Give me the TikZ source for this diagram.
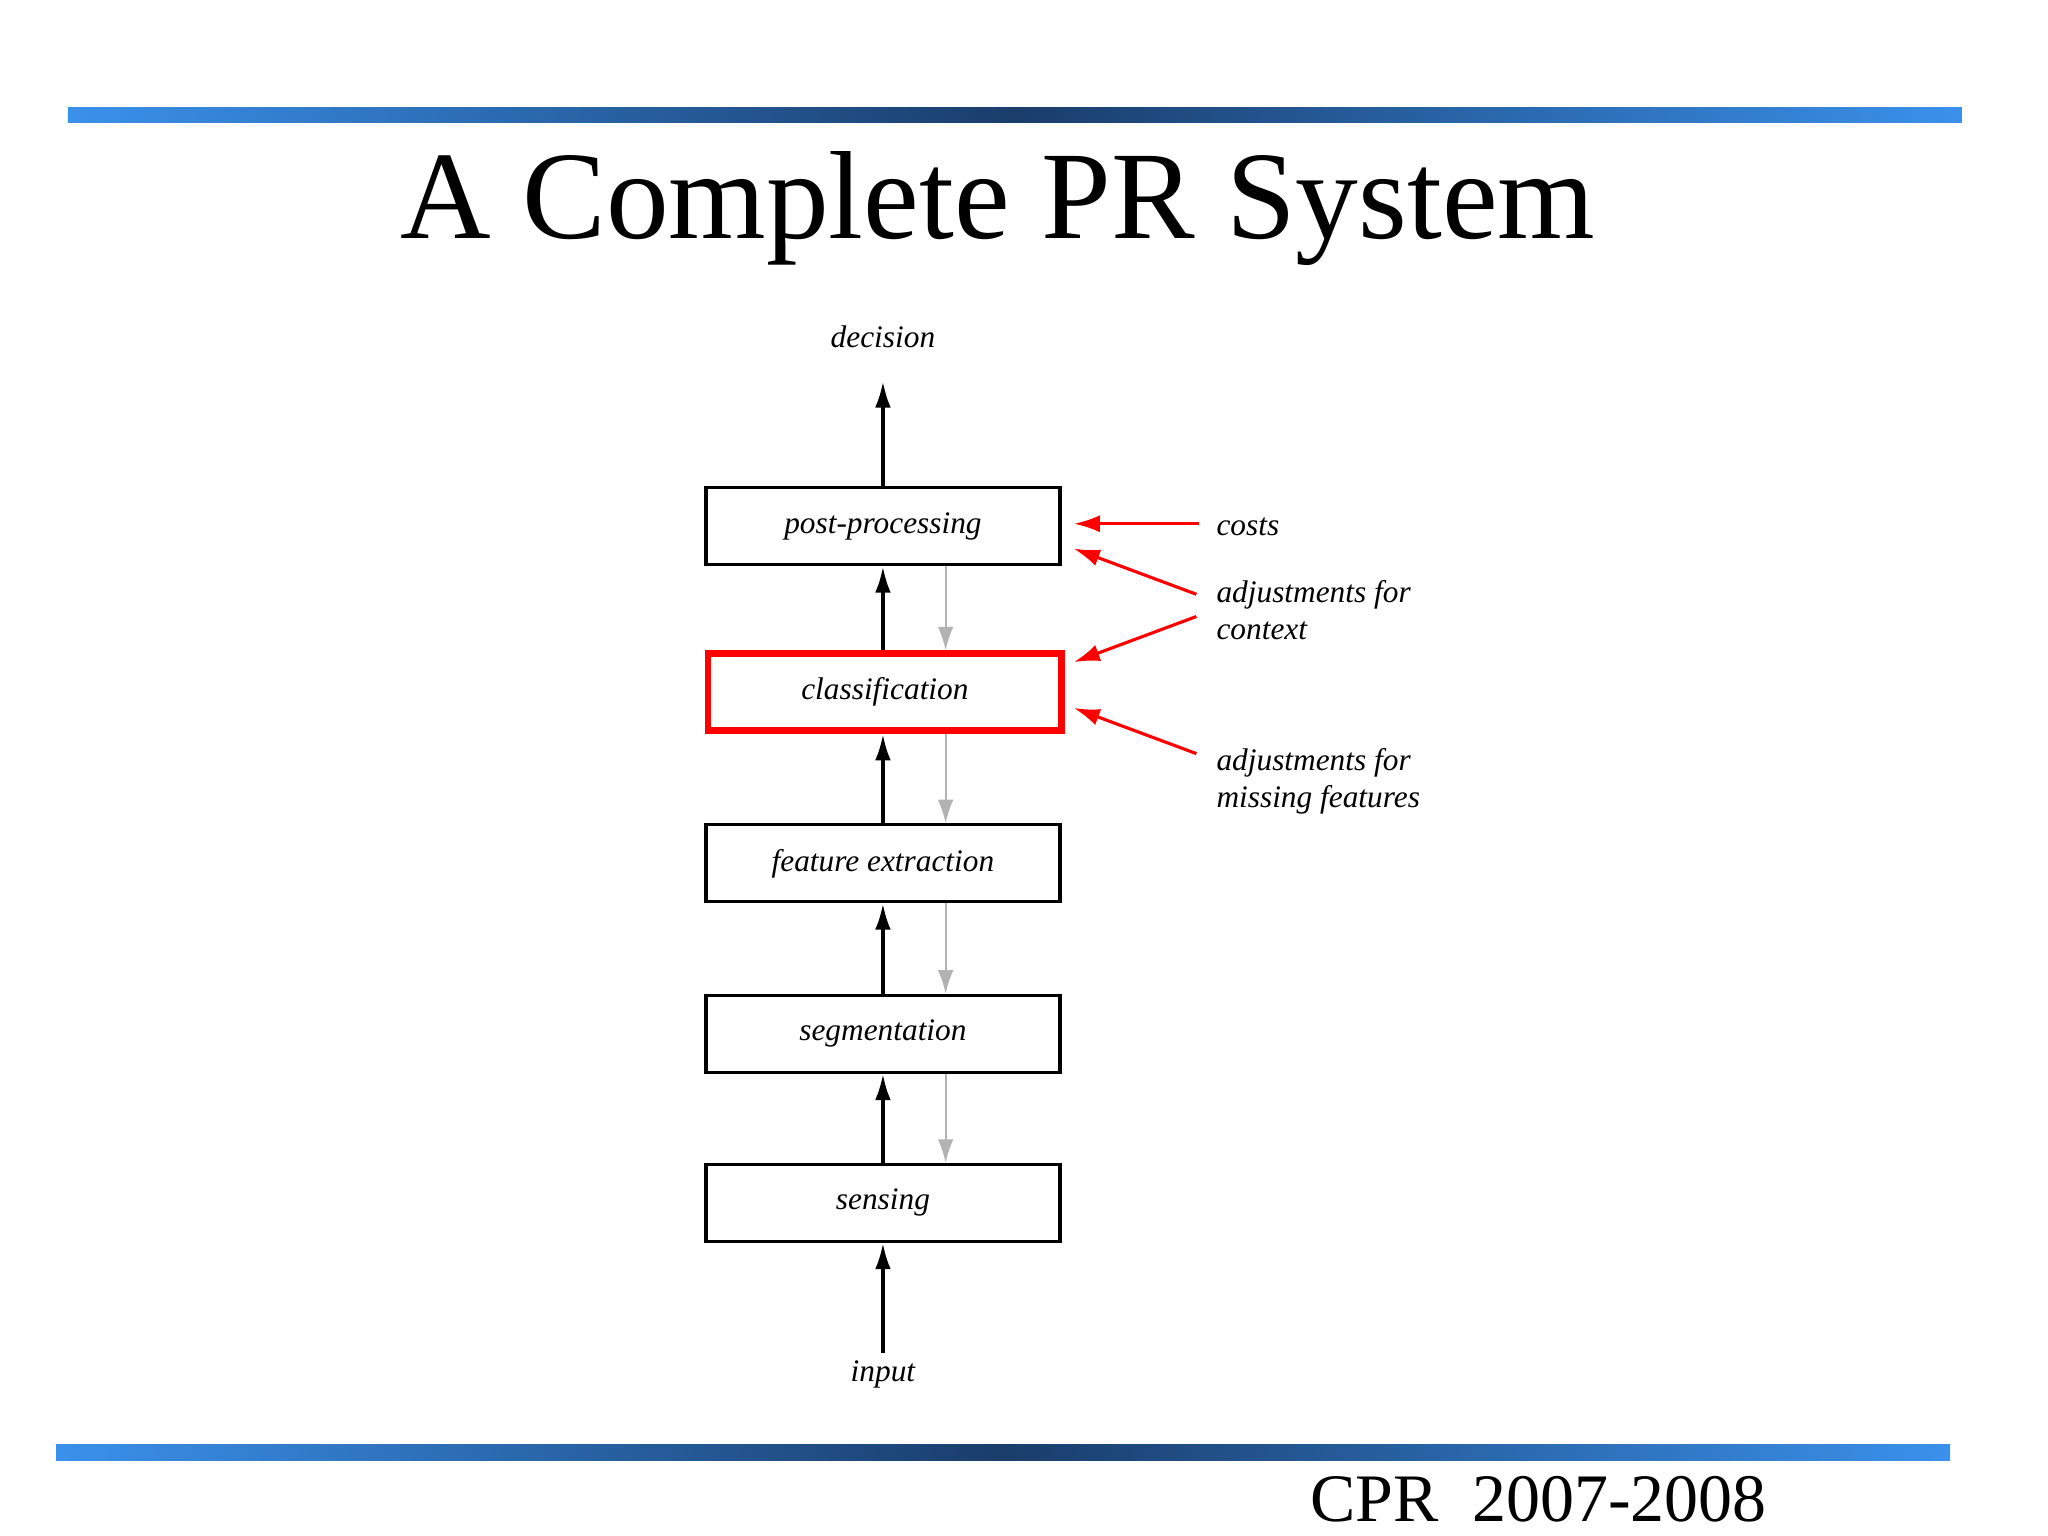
\documentclass[tikz,border=0pt]{standalone}
\usepackage{fontspec}
\setmainfont{Liberation Serif}
\usetikzlibrary{arrows.meta}
\begin{document}
\begin{tikzpicture}[x=0.5pt,y=-0.5pt,
  box/.style={draw,line width=1.2pt,minimum width=135.5pt,minimum height=29.5pt,inner sep=0pt,font=\itshape\fontsize{12}{14}\selectfont},
  lab/.style={font=\itshape\fontsize{12}{14}\selectfont,inner sep=0pt},
  up/.style={line width=1.3pt,-{Latex[length=10pt,width=6pt]}},
  gr/.style={draw=gray!60,line width=0.7pt,-{Latex[length=9pt,width=6pt]}},
  rd/.style={draw=red,line width=1.2pt,-{Latex[length=10pt,width=6.5pt]}}]
\useasboundingbox (0,0) rectangle (1568,1176);
% bars
\fill[left color={rgb,255:red,58;green,145;blue,235},right color={rgb,255:red,26;green,61;blue,107}] (52,82) rectangle (777,94);
\fill[left color={rgb,255:red,26;green,61;blue,107},right color={rgb,255:red,58;green,145;blue,235}] (777,82) rectangle (1502,94);
\fill[left color={rgb,255:red,58;green,145;blue,235},right color={rgb,255:red,26;green,61;blue,107}] (43,1106) rectangle (768,1118);
\fill[left color={rgb,255:red,26;green,61;blue,107},right color={rgb,255:red,58;green,145;blue,235}] (768,1106) rectangle (1493,1118);
\node[font=\fontsize{48}{52}\selectfont] (title) at (764,160) {A Complete PR System};
\node[font=\fontsize{26}{30}\selectfont,anchor=west] (foot) at (996,1148) {CPR\ \ 2007-2008};
% boxes
\node[box] (post) at (676,403) {\raisebox{-2pt}{post-processing}};
\node[box,draw=red,line width=2.6pt] (cls) at (677.5,530) {\raisebox{-2pt}{classification}};
\node[box] (feat) at (676,661) {\raisebox{-2pt}{feature extraction}};
\node[box] (seg) at (676,791.5) {\raisebox{-2pt}{segmentation}};
\node[box] (sens) at (676,921) {\raisebox{-2pt}{sensing}};
\node[lab] (dec) at (676,258) {decision};
\node[lab] (inp) at (676,1052) {input};
\coordinate (decb) at (676,292);
\coordinate (inpt) at (676,1036);
% black arrows
\draw[up] (inpt) -- (sens.south -| inpt);
\draw[up] (sens.north) -- (seg.south);
\draw[up] (seg.north) -- (feat.south);
\draw[up] (feat.north) -- (cls.south -| feat.north);
\draw[up] (cls.north -| post.south) -- (post.south);
\draw[up] (post.north) -- (decb);
% gray arrows
\draw[gr] ([xshift=24pt]post.south) -- ([xshift=24pt]post.south |- cls.north);
\draw[gr] ([xshift=24pt]post.south |- cls.south) -- ([xshift=24pt]feat.north);
\draw[gr] ([xshift=24pt]feat.south) -- ([xshift=24pt]seg.north);
\draw[gr] ([xshift=24pt]seg.south) -- ([xshift=24pt]sens.north);
% red labels
\node[lab,anchor=west] (costs) at (931,403) {costs};
\node[lab,anchor=west,align=left] (ctx) at (931,467) {adjustments for\\context};
\node[lab,anchor=west,align=left] (miss) at (931,598) {adjustments for\\missing features};
\coordinate (c1) at (918,401); \coordinate (c1e) at (822,401);
\coordinate (c2) at (916,455); \coordinate (c2e) at (822,420);
\coordinate (c3) at (916,472); \coordinate (c3e) at (822,507);
\coordinate (c4) at (916,577); \coordinate (c4e) at (822,542);
\draw[rd] (c1) -- (c1e);
\draw[rd] (c2) -- (c2e);
\draw[rd] (c3) -- (c3e);
\draw[rd] (c4) -- (c4e);
\end{tikzpicture}
\end{document}
